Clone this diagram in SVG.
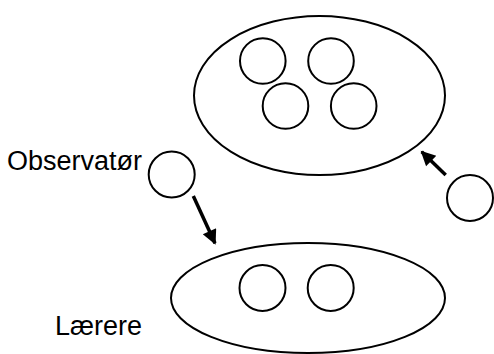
<svg xmlns="http://www.w3.org/2000/svg" width="494" height="354" viewBox="0 0 494 354">
<defs>
<style>
.s{fill:none;stroke:#000;stroke-width:2}
.t{font-family:"Liberation Sans",Arial,sans-serif;font-size:27px;fill:#000}
.c{fill:none;stroke:#000;stroke-width:3.5}
</style>
<marker id="ah" viewBox="0 0 10 10" refX="9" refY="5" markerWidth="5" markerHeight="4.2" orient="auto" markerUnits="strokeWidth">
<path d="M0,0 L10,5 L0,10 z" fill="#000"/>
</marker>
</defs>
<g id="top-group">
<ellipse class="s" cx="319.5" cy="95.5" rx="125.5" ry="79.5"/>
<circle class="s" cx="262.8" cy="61" r="22.8"/>
<circle class="s" cx="331" cy="61" r="22.8"/>
<circle class="s" cx="285.5" cy="106" r="22.8"/>
<circle class="s" cx="353.7" cy="106" r="22.8"/>
</g>
<g id="bottom-group">
<ellipse class="s" cx="308" cy="298" rx="137" ry="55"/>
<circle class="s" cx="262.5" cy="288" r="23"/>
<circle class="s" cx="330.7" cy="288" r="23"/>
</g>
<g id="observer">
<circle class="s" cx="171.7" cy="174.5" r="23"/>
<text class="t" x="7" y="170">Observatør</text>
</g>
<g id="newcomer">
<circle class="s" cx="470" cy="198" r="23"/>
</g>
<g id="label-laerere">
<text class="t" x="55" y="335">Lærere</text>
</g>
<g id="connectors">
<line class="c" x1="193.3" y1="196" x2="215" y2="243.3" marker-end="url(#ah)"/>
<line class="c" x1="445.7" y1="175" x2="421.7" y2="151.7" marker-end="url(#ah)"/>
</g>
</svg>
